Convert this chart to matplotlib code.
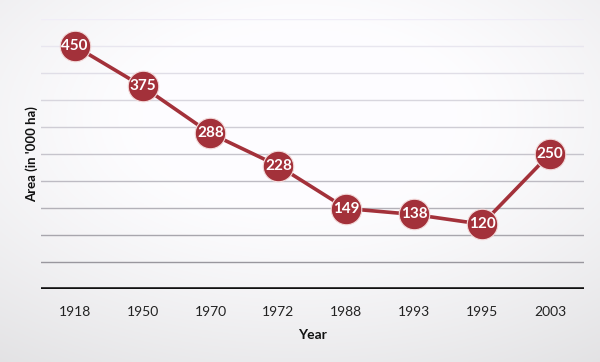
import numpy as np
import matplotlib
matplotlib.use('Agg')
import matplotlib.pyplot as plt

YEARS = ['1918', '1950', '1970', '1972', '1988', '1993', '1995', '2003']
AREA = [450, 375, 288, 228, 149, 138, 120, 250]
GRID_LEVELS = [50, 100, 150, 200, 250, 300, 350, 400, 450, 500]

RED = '#a3313a'

plt.rcParams['font.family'] = ['Lato', 'DejaVu Sans']

fig = plt.figure(figsize=(6, 3.62), dpi=100)
fig.patch.set_facecolor('#ecebef')

# washed-out paper look: bright at the top centre, greyer at the edges
bg = fig.add_axes([0, 0, 1, 1], zorder=-1)
gx, gy = np.meshgrid(np.linspace(-1, 1, 300), np.linspace(1, -1, 180))
r = np.sqrt((gx * 0.85) ** 2 + ((gy - 0.35) * 0.9) ** 2)
shade = np.clip(1.0 - 0.10 * np.clip(r - 0.45, 0, None) ** 1.2, 0, 1)
img = np.dstack([shade * 0.994, shade * 0.992, shade * 1.0])
bg.imshow(np.clip(img, 0, 1), aspect='auto', extent=[0, 1, 0, 1])
bg.axis('off')

ax = fig.add_axes([0.068, 0.2017, 0.905, 0.7458])
ax.patch.set_alpha(0)

x = np.arange(len(YEARS))
for lvl in GRID_LEVELS:
    f = (lvl - 50) / 450.0
    g = 0.60 + 0.34 * f ** 0.8
    ax.axhline(lvl, color=(g, g * 0.99, min(g * 1.03, 1.0)), lw=1.0, zorder=1)
ax.axhline(0, color='#111111', lw=2.6, zorder=2)

ax.plot(x, AREA, color=RED, lw=2.6, zorder=3)
ax.plot(x, AREA, 'o', ms=22, color=RED, mec='#f3dada', mew=0.8, zorder=4)
for xi, v in zip(x, AREA):
    ax.text(xi, v, str(v), ha='center', va='center', color='white',
            fontsize=11, fontweight='bold', zorder=5)

ax.set_xlim(-0.5, len(YEARS) - 0.5)
ax.set_ylim(0, 500)
ax.set_xticks(x)
ax.set_xticklabels(YEARS, fontsize=10, color='#222222')
ax.set_yticks([])
ax.tick_params(axis='x', length=0, pad=12)
for s in ax.spines.values():
    s.set_visible(False)

ax.set_xlabel('Year', fontsize=10, fontweight='bold', color='#111111', labelpad=8)
ax.set_ylabel("Area (in '000 ha)", fontsize=9.5, fontweight='bold', color='#111111', labelpad=2)

fig.savefig('out.png', dpi=100, facecolor=fig.get_facecolor())
